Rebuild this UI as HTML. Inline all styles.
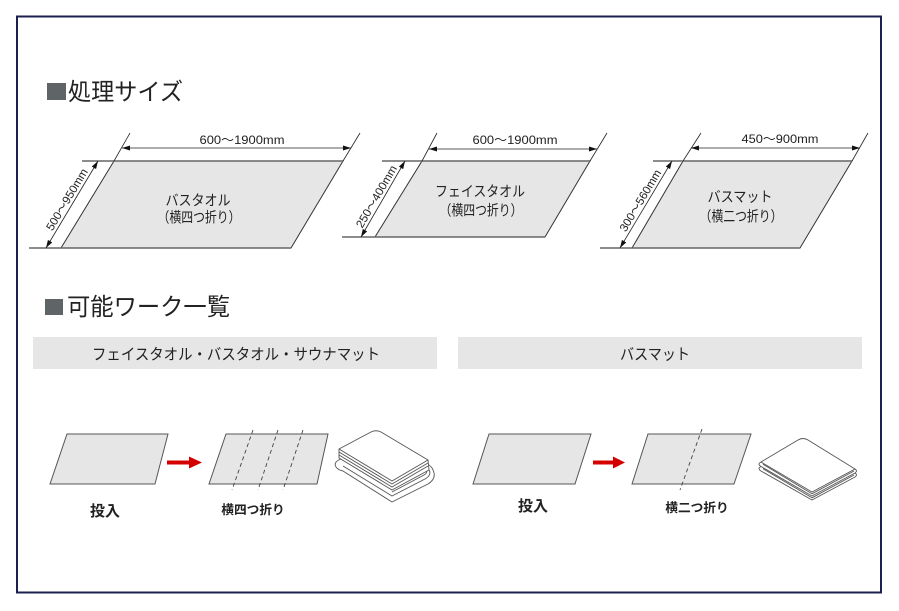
<!DOCTYPE html>
<html><head><meta charset="utf-8"><style>
html,body{margin:0;padding:0;background:#fff;}
svg{display:block;}
text{font-family:"Liberation Sans","Noto Sans CJK JP",sans-serif;fill:#222;}
.jp{font-family:"Noto Sans CJK JP","Liberation Sans",sans-serif;}
</style></head><body>
<svg width="899" height="611" viewBox="0 0 899 611" xmlns="http://www.w3.org/2000/svg">
<defs>
<marker id="ah" viewBox="0 0 8 5" refX="8" refY="2.5" markerWidth="8" markerHeight="5" orient="auto-start-reverse" markerUnits="userSpaceOnUse"><path d="M0,0 L8,2.5 L0,5 z" fill="#111"/></marker>
</defs>
<rect x="17" y="16.5" width="864" height="576" fill="none" stroke="#1c2050" stroke-width="2"/>

<!-- heading 1 -->
<rect x="47" y="83" width="19" height="17" fill="#5f6566"/>
<text class="jp" x="68" y="100" font-size="24" fill="#1a1a1a" textLength="115" lengthAdjust="spacingAndGlyphs">処理サイズ</text>

<!-- para 1 -->
<polygon points="114,161 343,161 291,248 61,248" fill="#e6e6e6" stroke="#333" stroke-width="1"/>
<line x1="82" y1="161" x2="343" y2="161" stroke="#666" stroke-width="1.4"/>
<line x1="29" y1="248" x2="291" y2="248" stroke="#666" stroke-width="1.4"/>
<line x1="114" y1="161" x2="130" y2="133" stroke="#222" stroke-width="0.8"/>
<line x1="343" y1="161" x2="360" y2="133" stroke="#222" stroke-width="0.8"/>
<line x1="122" y1="148" x2="351" y2="148" stroke="#222" stroke-width="0.8" marker-start="url(#ah)" marker-end="url(#ah)"/>
<line x1="98" y1="161" x2="46" y2="248" stroke="#222" stroke-width="0.8" marker-start="url(#ah)" marker-end="url(#ah)"/>
<text x="242" y="144" font-size="12" text-anchor="middle" textLength="85" lengthAdjust="spacingAndGlyphs">600～1900mm</text>
<text transform="translate(70.3,201.5) rotate(-59.1)" font-size="11.5" text-anchor="middle" textLength="70" lengthAdjust="spacingAndGlyphs">500～950mm</text>
<text class="jp" x="198" y="205.5" font-size="14.5" text-anchor="middle" textLength="65" lengthAdjust="spacingAndGlyphs">バスタオル</text>
<text class="jp" x="199" y="222.5" font-size="14.5" text-anchor="middle" textLength="83" lengthAdjust="spacingAndGlyphs">（横四つ折り）</text>

<!-- para 2 -->
<polygon points="422,161 590,161 545,237 375,237" fill="#e6e6e6" stroke="#333" stroke-width="1"/>
<line x1="382" y1="161" x2="590" y2="161" stroke="#666" stroke-width="1.4"/>
<line x1="342" y1="237" x2="545" y2="237" stroke="#666" stroke-width="1.4"/>
<line x1="422" y1="161" x2="437" y2="133" stroke="#222" stroke-width="0.8"/>
<line x1="590" y1="161" x2="607" y2="133" stroke="#222" stroke-width="0.8"/>
<line x1="429" y1="149" x2="597" y2="149" stroke="#222" stroke-width="0.8" marker-start="url(#ah)" marker-end="url(#ah)"/>
<line x1="405" y1="161" x2="361" y2="237" stroke="#222" stroke-width="0.8" marker-start="url(#ah)" marker-end="url(#ah)"/>
<text x="515" y="144" font-size="12" text-anchor="middle" textLength="85" lengthAdjust="spacingAndGlyphs">600～1900mm</text>
<text transform="translate(379.8,198.5) rotate(-59.9)" font-size="11.5" text-anchor="middle" textLength="70" lengthAdjust="spacingAndGlyphs">250～400mm</text>
<text class="jp" x="480" y="196.5" font-size="14.5" text-anchor="middle" textLength="90" lengthAdjust="spacingAndGlyphs">フェイスタオル</text>
<text class="jp" x="481" y="215.5" font-size="14.5" text-anchor="middle" textLength="83" lengthAdjust="spacingAndGlyphs">（横四つ折り）</text>

<!-- para 3 -->
<polygon points="683,161 852,161 800,248 632,248" fill="#e6e6e6" stroke="#333" stroke-width="1"/>
<line x1="653" y1="161" x2="852" y2="161" stroke="#666" stroke-width="1.4"/>
<line x1="600" y1="248" x2="800" y2="248" stroke="#666" stroke-width="1.4"/>
<line x1="683" y1="161" x2="701" y2="133" stroke="#222" stroke-width="0.8"/>
<line x1="852" y1="161" x2="868" y2="133" stroke="#222" stroke-width="0.8"/>
<line x1="691" y1="148" x2="860" y2="148" stroke="#222" stroke-width="0.8" marker-start="url(#ah)" marker-end="url(#ah)"/>
<line x1="672" y1="161" x2="620" y2="248" stroke="#222" stroke-width="0.8" marker-start="url(#ah)" marker-end="url(#ah)"/>
<text x="780" y="143" font-size="12" text-anchor="middle" textLength="77" lengthAdjust="spacingAndGlyphs">450～900mm</text>
<text transform="translate(643.7,202.5) rotate(-59.1)" font-size="11.5" text-anchor="middle" textLength="70" lengthAdjust="spacingAndGlyphs">300～560mm</text>
<text class="jp" x="740" y="202" font-size="14.5" text-anchor="middle" textLength="65" lengthAdjust="spacingAndGlyphs">バスマット</text>
<text class="jp" x="741" y="221.5" font-size="14.5" text-anchor="middle" textLength="83" lengthAdjust="spacingAndGlyphs">（横二つ折り）</text>

<!-- heading 2 -->
<rect x="45" y="299" width="18" height="16" fill="#5f6566"/>
<text class="jp" x="67" y="315" font-size="24" fill="#1a1a1a" textLength="163" lengthAdjust="spacingAndGlyphs">可能ワーク一覧</text>

<!-- bars -->
<rect x="33" y="337" width="404" height="32" fill="#e6e6e6"/>
<text class="jp" x="236" y="359.5" font-size="15.5" text-anchor="middle" textLength="288" lengthAdjust="spacingAndGlyphs">フェイスタオル・バスタオル・サウナマット</text>
<rect x="458" y="337" width="404" height="32" fill="#e6e6e6"/>
<text class="jp" x="655" y="359.5" font-size="15.5" text-anchor="middle" textLength="70" lengthAdjust="spacingAndGlyphs">バスマット</text>

<!-- bottom left flow -->
<polygon points="67,434 168,434 155,484 50,484" fill="#e6e6e6" stroke="#555" stroke-width="1"/>
<rect x="167" y="460.5" width="23" height="4" fill="#d40000"/>
<polygon points="189,456.5 202,462.5 189,468.5" fill="#d40000"/>
<polygon points="226,434 328,434 317,484 209,484" fill="#e6e6e6" stroke="#555" stroke-width="1"/>
<g stroke="#444" stroke-width="0.9" stroke-dasharray="4,3">
<line x1="253" y1="430" x2="232" y2="490"/>
<line x1="278" y1="430" x2="258" y2="490"/>
<line x1="303" y1="430" x2="283" y2="490"/>
</g>
<text class="jp" x="105" y="516" font-size="15" font-weight="bold" text-anchor="middle">投入</text>
<text class="jp" x="253" y="514" font-size="12.7" font-weight="bold" text-anchor="middle">横四つ折り</text>

<!-- towel 1 -->
<g fill="none" stroke="#555" stroke-width="0.9" stroke-linejoin="round">
<path d="M341,459 Q333,462 336,467 Q338,470 343,471 L392,502 L428,484 Q438,478 432,468 Q430,465 427,464" fill="#fff"/>
<path d="M343,466 L392,496 L425,479 Q432,475 429,470"/>
<path d="M392,492 L424,475 Q428,473 426,470"/>
<path d="M339,449 L339,458 L392,490 L429,470 L428,460" fill="#fff"/>
<path d="M339,452 L392,484 L428,463"/>
<path d="M339,455 L392,487 L428,466"/>
<path d="M339,449 L371,432 Q376,429.5 381,432 L428,460 L392,481 Z" fill="#fff"/>
</g>

<!-- bottom right flow -->
<polygon points="489,434 591,434 575,484 473,484" fill="#e6e6e6" stroke="#555" stroke-width="1"/>
<rect x="593" y="460.5" width="22" height="4" fill="#d40000"/>
<polygon points="613,456.5 625,462.5 613,468.5" fill="#d40000"/>
<polygon points="648,434 751,434 734,484 632,484" fill="#e6e6e6" stroke="#555" stroke-width="1"/>
<line x1="702" y1="429" x2="680" y2="490" stroke="#444" stroke-width="0.9" stroke-dasharray="4,3"/>
<text class="jp" x="533" y="511" font-size="15" font-weight="bold" text-anchor="middle">投入</text>
<text class="jp" x="697" y="512" font-size="12.7" font-weight="bold" text-anchor="middle">横二つ折り</text>

<!-- towel 2 -->
<g fill="none" stroke="#555" stroke-width="0.9" stroke-linejoin="round">
<path d="M761,466.5 Q757,468.5 761,471 L812,500 L855,477 Q858,475 855,473" fill="#fff"/>
<path d="M761,462 Q757,464 761,466.5 L812,496 L855,473 Q858,471 855,469" fill="#fff"/>
<path d="M763,468.8 L812,497.8 L854,475"/>
<path d="M763,464.3 L812,493.8 L854,471"/>
<path d="M761,462 L798,440 Q803,437 808,440 L855,469 L812,492 Z" fill="#fff"/>
</g>
</svg>
</body></html>
